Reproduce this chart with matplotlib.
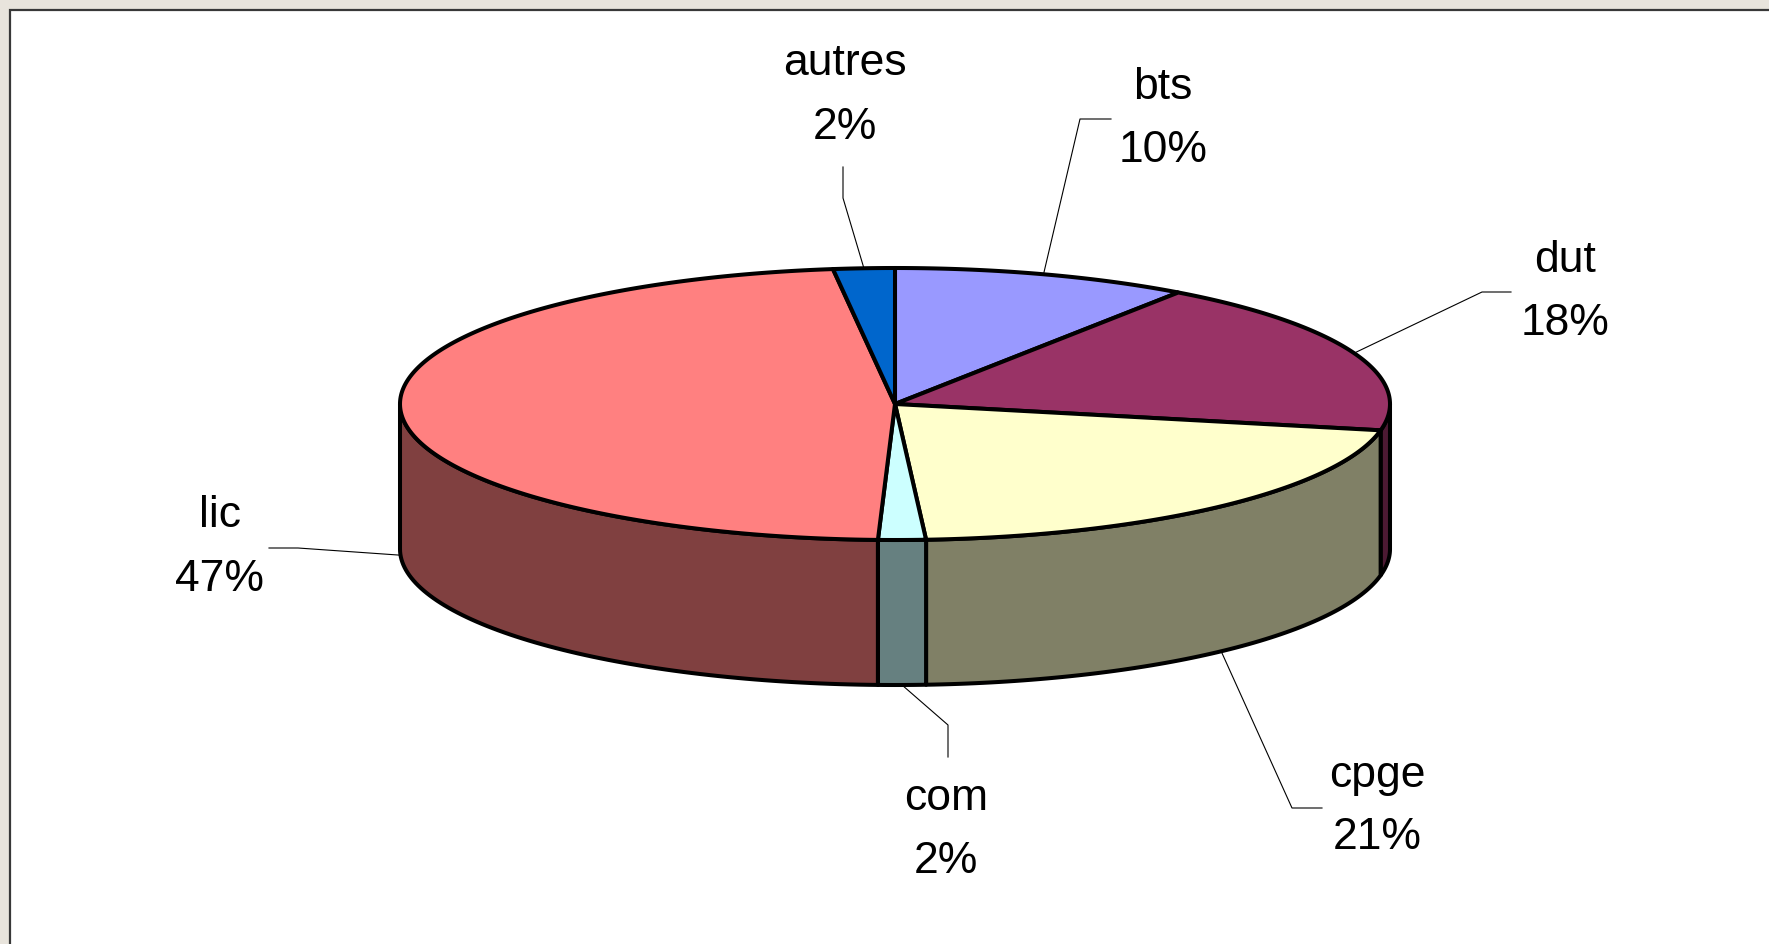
import numpy as np
import matplotlib
matplotlib.use('Agg')
import matplotlib.pyplot as plt
from matplotlib.patches import Polygon, Rectangle

# Données, dans le sens horaire depuis midi
labels = ['bts', 'dut', 'cpge', 'com', 'lic', 'autres']
values = [9.7, 18.4, 20.9, 1.55, 47.45, 2.0]
top_colors = ['#9999FF', '#993366', '#FFFFCC', '#CCFFFF', '#FF8080', '#0066CC']

# Position des étiquettes : (x centre, ligne de base du nom, ligne de base du %)
label_pos = {
    'bts': (1163, 99, 162),
    'dut': (1565, 272, 335),
    'cpge': (1377, 787, 849),
    'com': (946, 810, 873),
    'lic': (220, 527, 591),
    'autres': (845, 75, 139),
}
# Points du trait de rappel côté étiquette (coude, extrémité)
leader_pts = {
    'bts': [(1080, 119), (1111, 119)],
    'dut': [(1482, 292), (1511, 292)],
    'cpge': [(1292, 808), (1322, 808)],
    'com': [(948, 725), (948, 757)],
    'lic': [(298, 548), (269, 548)],
    'autres': [(843, 198), (843, 167)],
}

W, H = 1769, 944
fig = plt.figure(figsize=(W / 100, H / 100), dpi=100)
fig.patch.set_facecolor('#E8E4DC')
ax = fig.add_axes([0, 0, 1, 1])
ax.set_xlim(0, W)
ax.set_ylim(H, 0)
ax.axis('off')

# cadre blanc
ax.add_patch(Rectangle((9.5, 9.5), W, H, facecolor='white', edgecolor='#383838', lw=1.6, zorder=0))

# géométrie du camembert 3D
cx, cy, a, b, depth = 895, 404, 495, 136, 145


def rim(t, dy=0.0):
    t = np.radians(t)
    return cx + a * np.sin(t), cy - b * np.cos(t) + dy


def darker(c, f=0.5):
    rgb = np.array(matplotlib.colors.to_rgb(c))
    return tuple(rgb * f)


total = sum(values)
angles = np.concatenate([[0], np.cumsum(values) / total * 360])

# parois latérales (seulement la moitié avant est visible)
for i in range(len(values)):
    lo = max(angles[i], 90)
    hi = min(angles[i + 1], 270)
    if hi <= lo:
        continue
    t = np.linspace(lo, hi, 80)
    xs, ys = rim(t)
    xb, yb = rim(t[::-1], depth)
    pts = np.column_stack([np.concatenate([xs, xb]), np.concatenate([ys, yb])])
    ax.add_patch(Polygon(pts, closed=True, facecolor=darker(top_colors[i]),
                         edgecolor='black', lw=2.9, joinstyle='round', zorder=2))

# faces supérieures
for i in range(len(values)):
    t = np.linspace(angles[i], angles[i + 1], 200)
    xs, ys = rim(t)
    pts = np.column_stack([np.concatenate([[cx], xs]), np.concatenate([[cy], ys])])
    ax.add_patch(Polygon(pts, closed=True, facecolor=top_colors[i],
                         edgecolor='black', lw=2.9, joinstyle='round', zorder=3))

# étiquettes et traits de rappel
for i, name in enumerate(labels):
    mid = (angles[i] + angles[i + 1]) / 2
    if 90 < mid < 270:
        ax_, ay_ = rim(mid, depth)
    else:
        ax_, ay_ = rim(mid)
    (ex, ey), (fx, fy) = leader_pts[name]
    ax.plot([ax_, ex, fx], [ay_, ey, fy], color='black', lw=0.8, zorder=4)
    x, y1, y2 = label_pos[name]
    pct = f"{round(values[i] / total * 100)}%"
    ax.text(x, y1, name, ha='center', va='baseline', fontsize=32,
            family='Liberation Sans', zorder=5)
    ax.text(x, y2, pct, ha='center', va='baseline', fontsize=32,
            family='Liberation Sans', zorder=5)

fig.savefig('out.png', dpi=100, facecolor=fig.get_facecolor())
